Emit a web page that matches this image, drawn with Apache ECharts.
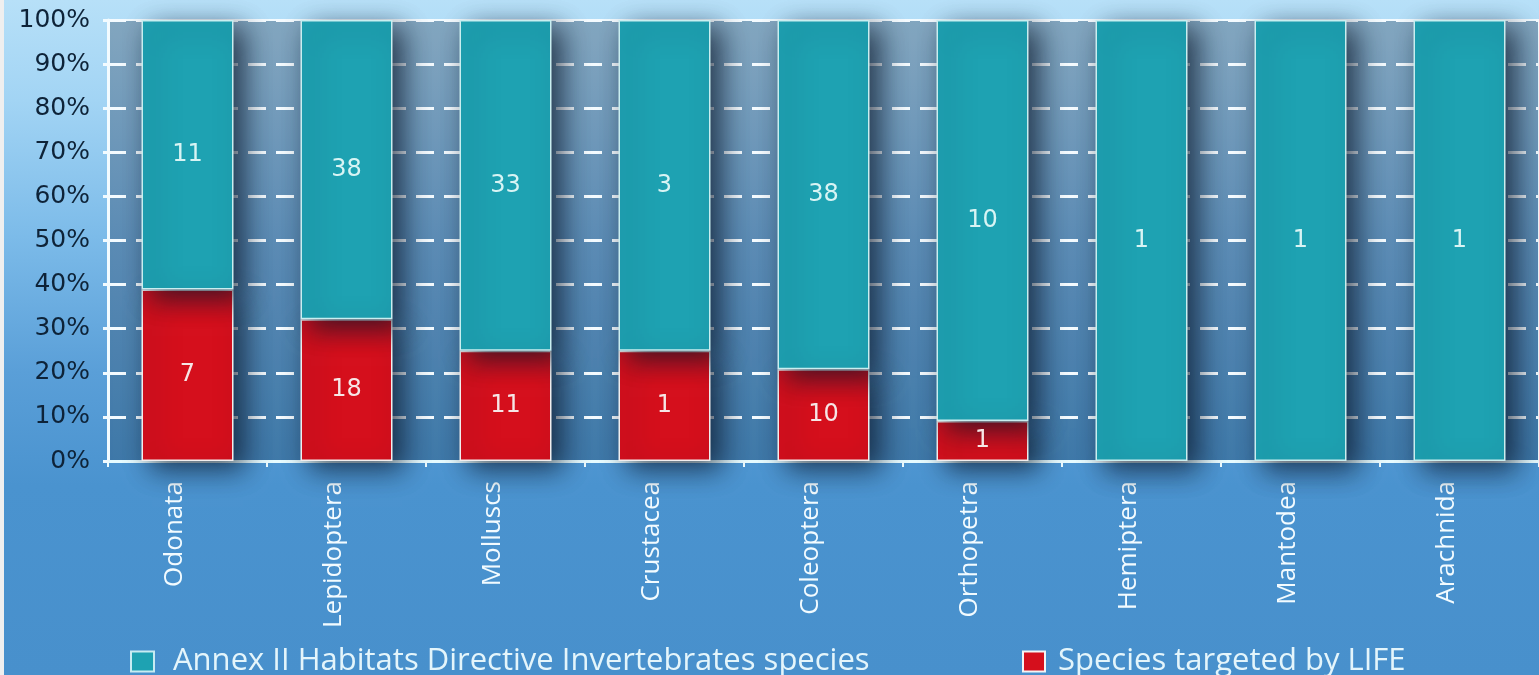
<!DOCTYPE html>
<html>
<head>
<meta charset="utf-8">
<script src="https://cdn.jsdelivr.net/npm/echarts@6/dist/echarts.min.js"></script>
<style>
  html, body { margin: 0; padding: 0; background: #efefef; overflow: hidden; }
  #chart { position: absolute; left: 4px; top: 0; width: 1535px; height: 675px; }
</style>
</head>
<body>
<div id="chart"></div>
<script>
// Invertebrate groups listed in Annex II of the Habitats Directive
const categories = ['Odonata', 'Lepidoptera', 'Molluscs', 'Crustacea', 'Coleoptera', 'Orthopetra', 'Hemiptera', 'Mantodea', 'Arachnida'];
// Annex II species not (yet) targeted by LIFE projects
const annexSpecies = [11, 38, 33, 3, 38, 10, 1, 1, 1];
// Species targeted by LIFE projects
const lifeSpecies = [7, 18, 11, 1, 10, 1, 0, 0, 0];
// Percentage axis
const yMin = 0, yMax = 100, yStep = 10;

const annexName = 'Annex II Habitats Directive Invertebrates species';
const lifeName = 'Species targeted by LIFE';

const totals = categories.map((_, i) => annexSpecies[i] + lifeSpecies[i]);
const lifeData = lifeSpecies.map((n, i) => ({ value: n / totals[i] * 100, count: n }));
const annexData = annexSpecies.map((n, i) => ({ value: n / totals[i] * 100, count: n }));

const countLabel = p => (p.data.count > 0 ? String(p.data.count) : '');
const barShadow = {
  shadowColor: 'rgba(8, 22, 40, 0.75)',
  shadowBlur: 26,
  shadowOffsetX: 10,
  shadowOffsetY: 8
};

const chart = echarts.init(document.getElementById('chart'));
chart.setOption({
  animation: false,
  backgroundColor: {
    type: 'linear', x: 0, y: 0, x2: 0, y2: 1,
    colorStops: [
      { offset: 0, color: '#b7e0f8' },
      { offset: 0.15, color: '#a2d4f4' },
      { offset: 0.35, color: '#7cbbe9' },
      { offset: 0.55, color: '#5a9fd8' },
      { offset: 0.72, color: '#4a93cf' },
      { offset: 1, color: '#4890cc' }
    ]
  },
  grid: {
    left: 104, top: 20, width: 1449, height: 441,
    show: true,
    borderColor: '#f2fbff',
    borderWidth: 2,
    backgroundColor: {
      type: 'linear', x: 0, y: 0, x2: 0, y2: 1,
      colorStops: [
        { offset: 0, color: '#82a6bf' },
        { offset: 0.5, color: '#5a8bb4' },
        { offset: 1, color: '#3d77a8' }
      ]
    }
  },
  legend: [
    {
      data: [annexName],
      left: 121, top: 641,
      icon: 'rect', itemWidth: 23, itemHeight: 20,
      itemStyle: { borderColor: '#c7ecf2', borderWidth: 2 },
      textStyle: { color: '#e4f5fb', fontFamily: 'Open Sans', fontSize: 31, padding: [0, 0, 0, 14] }
    },
    {
      data: [lifeName],
      left: 1013, top: 641,
      icon: 'rect', itemWidth: 22, itemHeight: 20,
      itemStyle: { borderColor: '#f4f4f4', borderWidth: 2 },
      textStyle: { color: '#e4f5fb', fontFamily: 'Open Sans', fontSize: 31, padding: [0, 0, 0, 8] }
    }
  ],
  xAxis: {
    type: 'category',
    data: categories,
    axisLine: { show: true, lineStyle: { color: '#e6fbff', width: 3 } },
    axisTick: { show: true, length: 6, lineStyle: { color: '#eefcff', width: 2 } },
    axisLabel: {
      rotate: 90,
      margin: 20,
      color: '#f2fbff',
      fontFamily: 'Open Sans',
      fontSize: 26,
      verticalAlign: 'bottom',
      lineHeight: 26
    },
    splitLine: { show: false }
  },
  yAxis: {
    type: 'value',
    min: yMin, max: yMax, interval: yStep,
    axisLine: { show: true, lineStyle: { color: '#f2fbff', width: 3 } },
    axisTick: { show: true, length: 5, lineStyle: { color: '#f2fbff', width: 3 } },
    axisLabel: {
      formatter: '{value}%',
      margin: 18,
      color: '#0e2338',
      fontFamily: 'DejaVu Sans',
      fontSize: 25
    },
    splitLine: { show: true, lineStyle: { color: '#f4fbff', width: 3, type: [18, 10] } }
  },
  series: [
    {
      name: lifeName,
      type: 'bar',
      stack: 'share',
      barWidth: 92,
      data: lifeData,
      itemStyle: Object.assign({ color: '#d50f1c', borderColor: '#f1eeee', borderWidth: 1.5 }, barShadow),
      label: {
        show: true, position: 'inside', formatter: countLabel,
        color: '#f6e6e6', fontFamily: 'DejaVu Sans', fontSize: 24
      }
    },
    {
      name: annexName,
      type: 'bar',
      stack: 'share',
      barWidth: 92,
      data: annexData,
      itemStyle: Object.assign({ color: '#1ea2b2', borderColor: '#c9eef0', borderWidth: 1.5 }, barShadow),
      label: {
        show: true, position: 'inside', formatter: countLabel,
        color: '#d8f4f4', fontFamily: 'DejaVu Sans', fontSize: 24
      }
    }
  ]
});
</script>
</body>
</html>
